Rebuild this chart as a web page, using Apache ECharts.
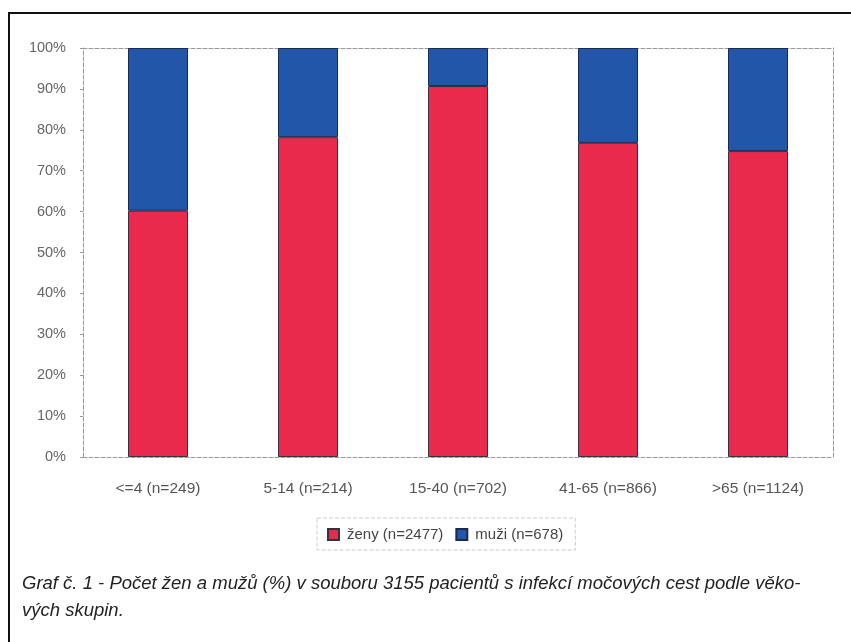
<!DOCTYPE html>
<html>
<head>
<meta charset="utf-8">
<script src="https://cdn.jsdelivr.net/npm/echarts@6/dist/echarts.min.js"></script>
<style>
  html, body { margin: 0; padding: 0; background: #fff; }
  #chart { width: 851px; height: 642px; }
</style>
</head>
<body>
<div id="chart"></div>
<script>
// age groups
const categories = ['<=4 (n=249)', '5-14 (n=214)', '15-40 (n=702)', '41-65 (n=866)', '>65 (n=1124)']
// share in %
const zenyValues = [60.2, 78.2, 90.7, 76.8, 74.8]
const muziValues = [39.8, 21.8, 9.3, 23.2, 25.2]
const seriesNames = ['ženy (n=2477)', 'muži (n=678)']
const yTicks = [0, 10, 20, 30, 40, 50, 60, 70, 80, 90, 100]
const captionLines = [
  'Graf č. 1 - Počet žen a mužů (%) v souboru 3155 pacientů s infekcí močových cest podle věko-',
  'vých skupin.'
]

const chart = echarts.init(document.getElementById('chart'))

const fontFamily = 'Liberation Sans, Arial, sans-serif'
const dashedLine = { show: true, onZero: false, lineStyle: { color: '#999', type: 'dashed', width: 1 } }

const option = {
  backgroundColor: '#fff',
  animation: false,
  grid: { left: 83, right: 18, top: 48, bottom: 185, containLabel: false },
  xAxis: [
    {
      type: 'category',
      data: categories,
      axisLine: dashedLine,
      axisTick: { show: false },
      axisLabel: { margin: 24, fontFamily, fontSize: 15.5, color: '#555' }
    },
    {
      type: 'category',
      position: 'top',
      data: categories,
      axisLine: dashedLine,
      axisTick: { show: false },
      axisLabel: { show: false }
    }
  ],
  yAxis: [
    {
      type: 'value',
      min: yTicks[0],
      max: yTicks[yTicks.length - 1],
      interval: 10,
      axisLine: dashedLine,
      axisTick: { show: true, length: 3, lineStyle: { color: '#999' } },
      splitLine: { show: false },
      axisLabel: { margin: 17, formatter: '{value}%', fontFamily, fontSize: 14.5, color: '#666' }
    },
    {
      type: 'value',
      position: 'right',
      min: 0,
      max: 100,
      axisLine: dashedLine,
      axisTick: { show: false },
      splitLine: { show: false },
      axisLabel: { show: false }
    }
  ],
  legend: {
    data: seriesNames,
    icon: 'rect',
    left: 317,
    top: 518,
    padding: [9, 12, 8, 10],
    itemWidth: 11,
    itemHeight: 11,
    itemGap: 12,
    borderColor: '#ccc',
    borderWidth: 1,
    borderType: 'dashed',
    textStyle: { fontFamily, fontSize: 15, color: '#444', padding: [0, 0, 0, 3] }
  },
  series: [
    {
      name: seriesNames[0],
      type: 'bar',
      stack: 'total',
      barWidth: '40%',
      data: zenyValues,
      itemStyle: { color: '#e92a4c', borderColor: '#3a3040', borderWidth: 1 }
    },
    {
      name: seriesNames[1],
      type: 'bar',
      stack: 'total',
      barWidth: '40%',
      data: muziValues,
      itemStyle: { color: '#2156a8', borderColor: '#1b2a50', borderWidth: 1 }
    }
  ],
  graphic: [
    {
      type: 'polyline',
      shape: { points: [[9, 650], [9, 13], [860, 13]] },
      style: { stroke: '#111', lineWidth: 2, fill: null }
    },
    {
      type: 'text',
      left: 22,
      top: 570,
      style: {
        text: captionLines.join('\n'),
        font: 'italic 18.5px "Liberation Sans", sans-serif',
        lineHeight: 27,
        fill: '#222'
      }
    }
  ]
}

chart.setOption(option)
</script>
</body>
</html>
